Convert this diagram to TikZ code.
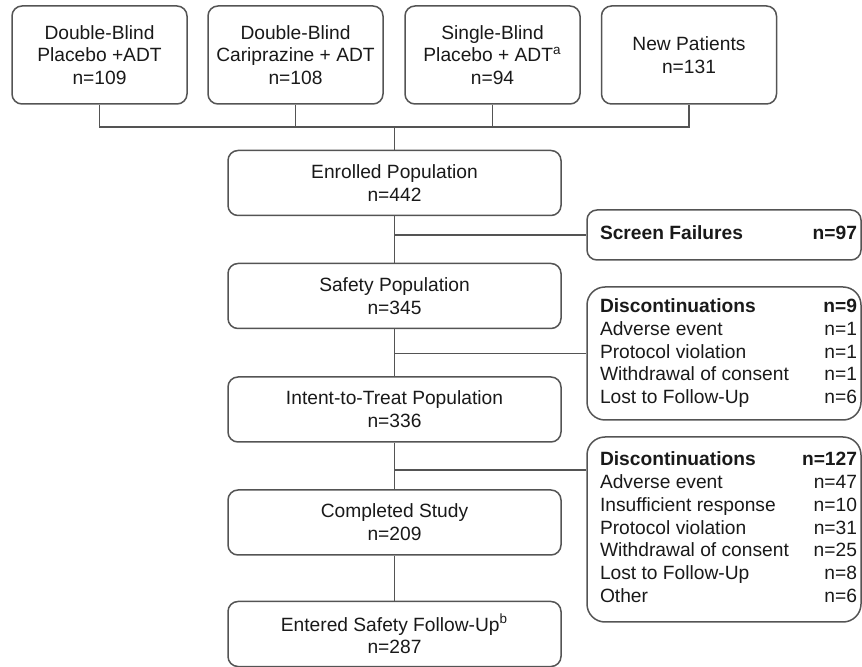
\documentclass[tikz,border=0pt]{standalone}
\usepackage{fontspec}
\setmainfont{Liberation Sans}
\usetikzlibrary{positioning,calc}
\definecolor{linegray}{rgb}{0.33,0.33,0.33}
\definecolor{textdark}{rgb}{0.1,0.1,0.1}
\newcommand{\reasons}[1]{\begin{tabular*}{133pt}{@{\hspace{4.5pt}}l@{\extracolsep{\fill}}r@{}}#1\end{tabular*}}

\begin{document}
\begin{tikzpicture}[x=0.5pt,y=-0.5pt]
  \tikzset{box/.style={draw=linegray,line width=0.75pt,rounded corners=5pt,text=textdark,font=\fontsize{9.6}{11.4}\selectfont,inner sep=0pt}}
  \tikzset{arm/.style={box,align=center,minimum width=87.5pt,minimum height=49pt}}
  \tikzset{stage/.style={box,align=center,minimum width=166.5pt,minimum height=32.5pt}}
  \tikzset{reason/.style={box,rounded corners=9pt,inner xsep=2pt,minimum width=137pt}}
  \tikzset{link/.style={draw=linegray,line width=0.75pt}}
  \useasboundingbox (0,0) rectangle (862,667);
  % source arms
  \node[arm] (dbPlacebo) at (99.5,55) {Double-Blind\\Placebo +ADT\\n=109};
  \node[arm] (dbCari) at (295.5,55) {Double-Blind\\Cariprazine + ADT\\n=108};
  \node[arm] (sbPlacebo) at (492.5,55) {Single-Blind\\Placebo + ADT\textsuperscript{a}\\n=94};
  \node[arm] (newPat) at (689,55) {New Patients\\n=131};
  % main stages
  \node[stage] (enrolled) at (394.5,183) {Enrolled Population\\n=442};
  \node[stage] (safety) at (394.5,296) {Safety Population\\n=345};
  \node[stage] (itt) at (394.5,409.5) {Intent-to-Treat Population\\n=336};
  \node[stage] (completed) at (394.5,522.5) {Completed Study\\n=209};
  \node[stage] (followup) at (394.5,634) {Entered Safety Follow-Up\textsuperscript{b}\\n=287};
  % side boxes
  \node[reason,rounded corners=5pt,minimum height=25pt] (screen) at (724,235)
    {\reasons{\textbf{Screen Failures} & \textbf{n=97}}};
  \node[reason,minimum height=66.5pt] (discA) at (724,353.5)
    {\reasons{\textbf{Discontinuations} & \textbf{n=9}\\
      Adverse event & n=1\\
      Protocol violation & n=1\\
      Withdrawal of consent & n=1\\
      Lost to Follow-Up & n=6}};
  \node[reason,minimum height=92.5pt] (discB) at (724,529.5)
    {\reasons{\textbf{Discontinuations} & \textbf{n=127}\\
      Adverse event & n=47\\
      Insufficient response & n=10\\
      Protocol violation & n=31\\
      Withdrawal of consent & n=25\\
      Lost to Follow-Up & n=8\\
      Other & n=6}};
  % connectors
  \coordinate (merge) at (394.5,127);
  \coordinate (dropB) at (394.5,470);
  \draw[link] (dbPlacebo.south) |- (newPat.south |- merge) -- (newPat.south);
  \draw[link] (dbCari.south) -- (dbCari.south |- merge);
  \draw[link] (sbPlacebo.south) -- (sbPlacebo.south |- merge);
  \draw[link] (merge) -- (enrolled.north);
  \draw[link] (enrolled) -- (safety);
  \draw[link] (safety) -- (itt);
  \draw[link] (itt) -- (completed);
  \draw[link] (completed) -- (followup);
  \draw[link] (enrolled.south |- screen.west) -- (screen.west);
  \draw[link] (safety.south |- discA.west) -- (discA.west);
  \draw[link] (dropB) -- (dropB -| discB.west);
\end{tikzpicture}
\end{document}
